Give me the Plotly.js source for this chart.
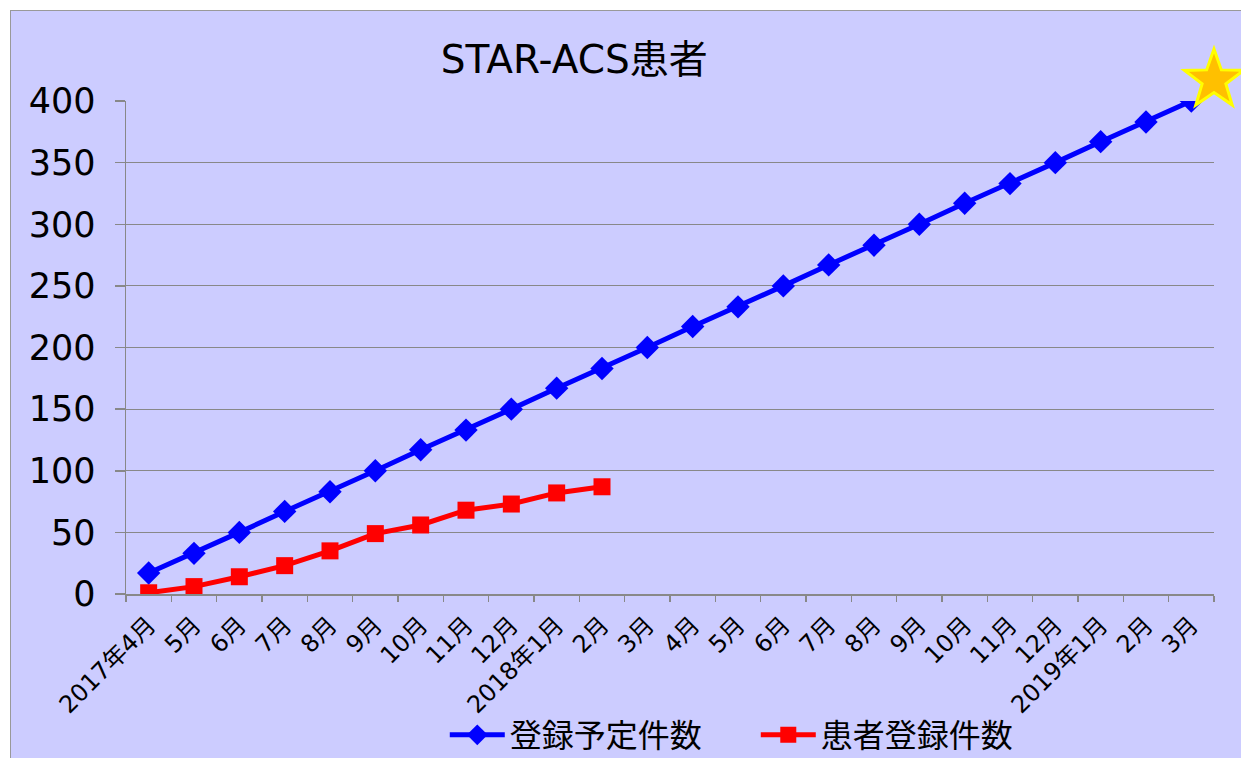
<!DOCTYPE html>
<html>
<head>
<meta charset="utf-8">
<script src="https://cdn.plot.ly/plotly-3.0.1.min.js"></script>
<style>
  html, body { margin: 0; padding: 0; background: #ffffff; width: 1241px; height: 758px; overflow: hidden; }
  #chart { position: absolute; left: 10px; top: 10px; width: 1230px; height: 747px;
           border-left: 1px solid #999999; border-top: 1px solid #999999; }
</style>
</head>
<body>
<div id="chart"></div>
<script>
// ---- data ----
const monthKeys = ['2017-04','2017-05','2017-06','2017-07','2017-08','2017-09','2017-10','2017-11','2017-12',
                   '2018-01','2018-02','2018-03','2018-04','2018-05','2018-06','2018-07','2018-08','2018-09',
                   '2018-10','2018-11','2018-12','2019-01','2019-02','2019-03'];
const tickLabels = ['2017年4月','5月','6月','7月','8月','9月','10月','11月','12月',
                    '2018年1月','2月','3月','4月','5月','6月','7月','8月','9月',
                    '10月','11月','12月','2019年1月','2月','3月'];
const plannedCounts = [17, 33, 50, 67, 83, 100, 117, 133, 150, 167, 183, 200,
                       217, 233, 250, 267, 283, 300, 317, 333, 350, 367, 383, 400];
const registeredCounts = [1, 6, 14, 23, 35, 49, 56, 68, 73, 82, 87];
const seriesNames = ['登録予定件数', '患者登録件数'];
const chartTitle = 'STAR-ACS患者';

const FONT = '"DejaVu Sans", "Noto Sans CJK JP", sans-serif';

const traces = [
  {
    type: 'scatter', mode: 'lines+markers', name: seriesNames[0],
    x: monthKeys, y: plannedCounts,
    line: { color: '#0000FF', width: 5 },
    marker: { symbol: 'diamond', size: 18, color: '#0000FF' },
    hoverinfo: 'skip'
  },
  {
    type: 'scatter', mode: 'lines+markers', name: seriesNames[1],
    x: monthKeys.slice(0, registeredCounts.length), y: registeredCounts,
    line: { color: '#FF0000', width: 5 },
    marker: { symbol: 'square', size: 17, color: '#FF0000' },
    hoverinfo: 'skip'
  }
];

// decorative star (pixel-sized, anchored at the top-right corner of the plot)
function starPath(R, r) {
  let d = '';
  for (let k = 0; k < 10; k++) {
    const a = Math.PI / 2 + k * Math.PI / 5;
    const rad = (k % 2 === 0) ? R : r;
    const px = rad * Math.cos(a), py = rad * Math.sin(a);
    d += (k === 0 ? 'M' : 'L') + px.toFixed(2) + ',' + py.toFixed(2);
  }
  return d + 'Z';
}

const layout = {
  width: 1230, height: 747,
  paper_bgcolor: '#CCCCFF', plot_bgcolor: '#CCCCFF',
  margin: { l: 115, r: 27, t: 90, b: 164, autoexpand: false },
  font: { family: FONT, color: '#000000' },
  showlegend: true,
  title: {
    text: chartTitle,
    font: { family: FONT, size: 39, color: '#000000' },
    xref: 'paper', x: 0.412, xanchor: 'center',
    yref: 'container', y: 0.935, yanchor: 'middle'
  },
  xaxis: {
    type: 'category',
    tickmode: 'array', tickvals: monthKeys, ticktext: tickLabels,
    tickson: 'boundaries',
    tickangle: -45,
    tickfont: { family: FONT, size: 24, color: '#000000' },
    ticks: 'outside', ticklen: 6, tickcolor: '#888888', tickwidth: 1.5,
    ticklabelstandoff: 6,
    showline: true, linecolor: '#888888', linewidth: 1.5,
    showgrid: false, zeroline: false, automargin: false,
    range: [-0.5, 23.5], fixedrange: true
  },
  yaxis: {
    range: [0, 400], dtick: 50, tick0: 0,
    tickfont: { family: FONT, size: 35, color: '#000000' },
    ticks: 'outside', ticklen: 10, tickcolor: '#888888', tickwidth: 1.5,
    ticklabelstandoff: 12,
    showline: true, linecolor: '#888888', linewidth: 1.5,
    showgrid: true, gridcolor: '#888888', gridwidth: 1.2,
    zeroline: false, fixedrange: true, automargin: false
  },
  legend: {
    orientation: 'h',
    x: 0.293, xanchor: 'left',
    y: -0.286, yanchor: 'middle',
    font: { family: FONT, size: 32, color: '#000000' },
    bgcolor: 'rgba(0,0,0,0)',
    entrywidth: 241, entrywidthmode: 'pixels',
    itemwidth: 55
  },
  shapes: [{
    type: 'path', layer: 'above',
    xref: 'paper', yref: 'paper',
    xsizemode: 'pixel', ysizemode: 'pixel',
    xanchor: 1.0, yanchor: 1.0426,
    path: starPath(31, 12.5),
    fillcolor: '#FFC000',
    line: { color: '#FFFF00', width: 3 }
  }]
};

Plotly.newPlot('chart', traces, layout, { displayModeBar: false, staticPlot: true });
</script>
</body>
</html>
